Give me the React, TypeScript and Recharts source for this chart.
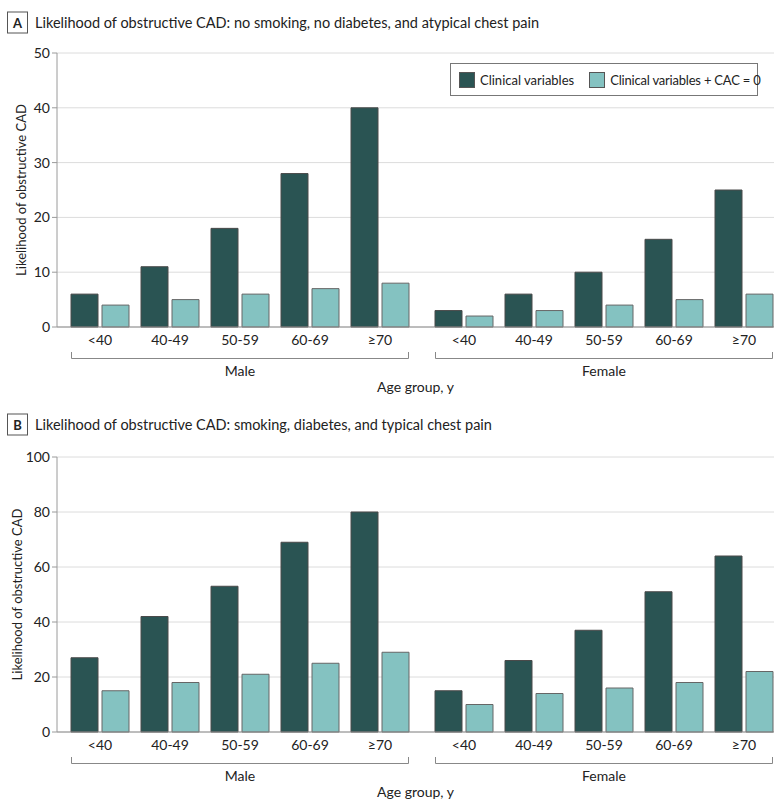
import { BarChart, Bar, XAxis, YAxis, CartesianGrid, Legend } from "recharts";

const AGE_GROUPS = ["<40", "40-49", "50-59", "60-69", "≥70"];
const SERIES_NAMES = ["Clinical variables", "Clinical variables + CAC = 0"];

// panel A: no smoking, no diabetes, atypical chest pain
const A_MALE_CLINICAL = [6, 11, 18, 28, 40];
const A_MALE_CAC0 = [4, 5, 6, 7, 8];
const A_FEMALE_CLINICAL = [3, 6, 10, 16, 25];
const A_FEMALE_CAC0 = [2, 3, 4, 5, 6];
const A_TICKS = [0, 10, 20, 30, 40, 50];

// panel B: smoking, diabetes, typical chest pain
const B_MALE_CLINICAL = [27, 42, 53, 69, 80];
const B_MALE_CAC0 = [15, 18, 21, 25, 29];
const B_FEMALE_CLINICAL = [15, 26, 37, 51, 64];
const B_FEMALE_CAC0 = [10, 14, 16, 18, 22];
const B_TICKS = [0, 20, 40, 60, 80, 100];

const DARK = "#2a5453";
const LIGHT = "#84c2c1";
const TEXT = "#222";
const FONT = "Lato, 'Noto Sans', sans-serif";

// layout (px)
const AXIS_X = 57;
const SPLIT_X = 422;
const RIGHT_X = 774;
const TOP_PAD = 12;
const X_AXIS_H = 30;

const toRows = (clinical: number[], cac: number[]) =>
  AGE_GROUPS.map((age, i) => ({ age, clinical: clinical[i], cac: cac[i] }));

const renderLegend = (props: any) => (
  <div
    style={{
      border: "1px solid #777",
      background: "#fff",
      height: 33,
      width: 308,
      display: "flex",
      alignItems: "center",
      paddingLeft: 8,
      boxSizing: "border-box",
      fontSize: 13,
      color: TEXT,
      fontFamily: FONT,
    }}
  >
    {(props.payload || []).map((p: any, i: number) => (
      <div key={i} style={{ display: "flex", alignItems: "center", marginRight: i === 0 ? 15 : 0 }}>
        <span
          style={{
            display: "inline-block",
            width: 16,
            height: 16,
            background: p.color,
            border: "1px solid #555",
            boxSizing: "border-box",
            marginRight: 5,
          }}
        />
        <span style={{ whiteSpace: "nowrap", letterSpacing: i === 1 ? -0.2 : 0 }}>{p.value}</span>
      </div>
    ))}
  </div>
);

interface PanelProps {
  letter: string;
  title: string;
  titleY: number;
  plotTop: number;
  plotBottom: number;
  ticks: number[];
  male: { age: string; clinical: number; cac: number }[];
  female: { age: string; clinical: number; cac: number }[];
  yLabelX: number;
  showLegend?: boolean;
}

function bars() {
  return [
    <Bar key="c" dataKey="clinical" name={SERIES_NAMES[0]} fill={DARK} stroke="#4a4a4a" strokeWidth={1} isAnimationActive={false} />,
    <Bar key="z" dataKey="cac" name={SERIES_NAMES[1]} fill={LIGHT} stroke="#666" strokeWidth={1} isAnimationActive={false} />,
  ];
}

function Panel({ letter, title, titleY, plotTop, plotBottom, ticks, male, female, yLabelX, showLegend }: PanelProps) {
  const plotH = plotBottom - plotTop;
  const chartH = TOP_PAD + plotH + X_AXIS_H;
  const domain: [number, number] = [0, ticks[ticks.length - 1]];
  const tickStyle = { fill: TEXT, fontSize: 14 };
  const bracketY = plotBottom + 31;
  const maleL = AXIS_X + 8 + 6;
  const maleR = SPLIT_X - 7 - 6;
  const femL = SPLIT_X + 7 + 6;
  const femR = RIGHT_X + 5 - 6;

  return (
    <>
      <div style={{ position: "absolute", left: 0, top: plotTop - TOP_PAD }}>
        <BarChart
          width={SPLIT_X}
          height={chartH}
          data={male}
          margin={{ top: TOP_PAD, right: 0, left: 0, bottom: 0 }}
          barCategoryGap={6}
          barGap={4}
        >
          <CartesianGrid vertical={false} stroke="#dcdcdc" />
          <XAxis
            dataKey="age"
            interval={0}
            height={X_AXIS_H}
            tickLine={false}
            axisLine={{ stroke: "#8c8c8c" }}
            tick={tickStyle}
            padding={{ left: 8, right: 7 }}
          />
          <YAxis
            width={AXIS_X}
            domain={domain}
            ticks={ticks}
            interval={0}
            tickSize={5}
            tickMargin={2}
            axisLine={{ stroke: "#9a9a9a" }}
            tickLine={{ stroke: "#9a9a9a" }}
            tick={tickStyle}
            label={(p: any) => {
              const vb = p.viewBox;
              const cy = vb.y + vb.height / 2;
              return (
                <text
                  x={yLabelX}
                  y={cy}
                  transform={`rotate(-90 ${yLabelX} ${cy})`}
                  textAnchor="middle"
                  dominantBaseline="central"
                  fill={TEXT}
                  fontSize={13}
                >
                  Likelihood of obstructive CAD
                </text>
              );
            }}
          />
          {bars()}
        </BarChart>
      </div>
      <div style={{ position: "absolute", left: SPLIT_X, top: plotTop - TOP_PAD }}>
        <BarChart
          width={RIGHT_X - SPLIT_X}
          height={chartH}
          data={female}
          margin={{ top: TOP_PAD, right: 0, left: 0, bottom: 0 }}
          barCategoryGap={6}
          barGap={4}
        >
          <CartesianGrid vertical={false} stroke="#dcdcdc" />
          <XAxis
            dataKey="age"
            interval={0}
            height={X_AXIS_H}
            tickLine={false}
            axisLine={{ stroke: "#8c8c8c" }}
            tick={tickStyle}
            padding={{ left: 7, right: -5 }}
          />
          <YAxis hide domain={domain} ticks={ticks} interval={0} width={0} />
          {bars()}
          {showLegend && (
            <Legend
              layout="horizontal"
              verticalAlign="middle"
              align="center"
              content={renderLegend}
              wrapperStyle={{ left: 450 - SPLIT_X, top: 63 - (plotTop - TOP_PAD), width: 308 }}
            />
          )}
        </BarChart>
      </div>
      <svg
        width={780}
        height={809}
        style={{ position: "absolute", left: 0, top: 0, pointerEvents: "none" }}
        fontFamily={FONT}
      >
        <rect x={7.5} y={titleY - 10.5} width={20} height={21} fill="#fff" stroke="#555" strokeWidth={1} />
        <text x={17.5} y={titleY} textAnchor="middle" dominantBaseline="central" fontWeight="bold" fontSize={13} fill={TEXT}>
          {letter}
        </text>
        <text x={35} y={titleY} dominantBaseline="central" fontSize={14.5} fill={TEXT}>
          {title}
        </text>
        <g stroke="#888" strokeWidth={1} fill="none">
          <path d={`M${maleL + 0.5},${bracketY - 6} V${bracketY + 0.5} H${maleR - 0.5} V${bracketY - 6}`} />
          <path d={`M${femL + 0.5},${bracketY - 6} V${bracketY + 0.5} H${femR - 0.5} V${bracketY - 6}`} />
        </g>
        <text x={(maleL + maleR) / 2} y={bracketY + 12} textAnchor="middle" dominantBaseline="central" fontSize={14} fill={TEXT}>
          Male
        </text>
        <text x={(femL + femR) / 2} y={bracketY + 12} textAnchor="middle" dominantBaseline="central" fontSize={14} fill={TEXT}>
          Female
        </text>
        <text x={(AXIS_X + RIGHT_X) / 2} y={bracketY + 28} textAnchor="middle" dominantBaseline="central" fontSize={14} fill={TEXT}>
          Age group, y
        </text>
      </svg>
    </>
  );
}

export default function App() {
  return (
    <div
      style={{
        position: "absolute",
        left: 0,
        top: 0,
        width: 780,
        height: 809,
        background: "#fff",
        fontFamily: FONT,
        overflow: "hidden",
      }}
    >
      <Panel
        letter="A"
        title="Likelihood of obstructive CAD: no smoking, no diabetes, and atypical chest pain"
        titleY={22.5}
        plotTop={53}
        plotBottom={327}
        ticks={A_TICKS}
        male={toRows(A_MALE_CLINICAL, A_MALE_CAC0)}
        female={toRows(A_FEMALE_CLINICAL, A_FEMALE_CAC0)}
        yLabelX={21}
        showLegend
      />
      <Panel
        letter="B"
        title="Likelihood of obstructive CAD: smoking, diabetes, and typical chest pain"
        titleY={424.5}
        plotTop={457}
        plotBottom={732}
        ticks={B_TICKS}
        male={toRows(B_MALE_CLINICAL, B_MALE_CAC0)}
        female={toRows(B_FEMALE_CLINICAL, B_FEMALE_CAC0)}
        yLabelX={17}
      />
    </div>
  );
}
